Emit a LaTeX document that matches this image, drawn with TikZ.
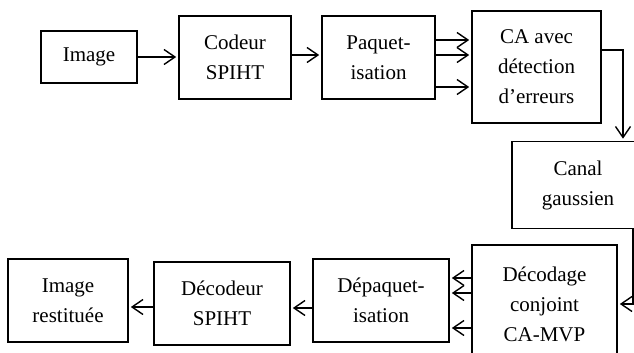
\documentclass[tikz,border=0pt]{standalone}
\usepackage{fontspec}
\setmainfont{Liberation Serif}
\usetikzlibrary{arrows.meta}

\begin{document}
\begin{tikzpicture}
	[
		x=1pt, y=-1pt,
		block/.style={draw=black, line width=1.6pt, align=center, inner sep=0pt,
			font=\fontsize{21}{30}\selectfont},
		flow/.style={line width=1.5pt, shorten >=2pt,
			-{Straight Barb[length=11pt, width=15pt, line width=1.4pt]}}
	]

	\useasboundingbox (0, 0) rectangle (634, 353);
	\clip (0, 0) rectangle (634, 353);

	% chaine d'emission
	\node (image)    at (89.0, 57.0)   [block, minimum width=96,  minimum height=52]  {Image};
	\node (codeur)   at (235.0, 57.5)  [block, minimum width=112, minimum height=83]  {Codeur\\SPIHT};
	\node (paquet)   at (378.5, 57.5)  [block, minimum width=113, minimum height=83]  {Paquet-\\isation};
	\node (ca)       at (536.5, 67.0)  [block, minimum width=129, minimum height=112] {CA avec\\d\'etection\\d'erreurs};

	% canal
	\node (canal)    at (578.0, 185.0) [block, minimum width=132, minimum height=87]  {Canal\\gaussien};

	% chaine de reception
	\node (decodage) at (544.5, 304.0) [block, minimum width=145, minimum height=118] {D\'ecodage\\conjoint\\CA-MVP};
	\node (depaq)    at (381.0, 300.5) [block, minimum width=136, minimum height=83]  {D\'epaquet-\\isation};
	\node (decodeur) at (222.0, 303.5) [block, minimum width=136, minimum height=83]  {D\'ecodeur\\SPIHT};
	\node (restit)   at (68.0, 300.5)  [block, minimum width=120, minimum height=83]  {Image\\restitu\'ee};

	\draw [flow] (image.east) -- (image.east -| codeur.west);
	\draw [flow] (codeur.east |- 0, 55) -- (paquet.west |- 0, 55);

	\draw [flow] (paquet.east |- 0, 40) -- (ca.west |- 0, 40);
	\draw [flow] (paquet.east |- 0, 55) -- (ca.west |- 0, 55);
	\draw [flow] (paquet.east |- 0, 87) -- (ca.west |- 0, 87);

	\draw [flow] (ca.east |- 0, 50) -| ([xshift=45]canal.north);
	\draw [flow] ([xshift=55]canal.south) |- (decodage.east);

	\draw [flow] (decodage.west |- 0, 278) -- (depaq.east |- 0, 278);
	\draw [flow] (decodage.west |- 0, 293) -- (depaq.east |- 0, 293);
	\draw [flow] (decodage.west |- 0, 328) -- (depaq.east |- 0, 328);

	\draw [flow] (depaq.west |- 0, 308) -- (decodeur.east |- 0, 308);
	\draw [flow] (decodeur.west |- 0, 307) -- (restit.east |- 0, 307);
\end{tikzpicture}
\end{document}
